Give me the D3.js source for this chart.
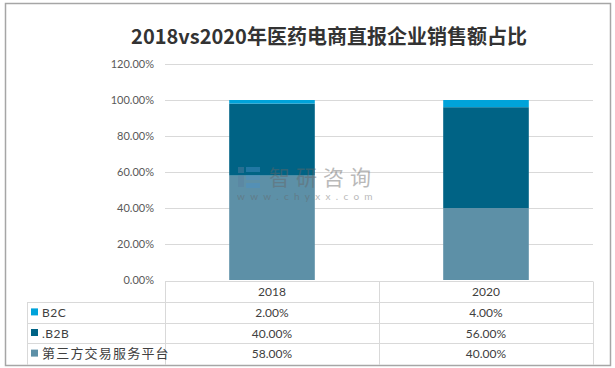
<!DOCTYPE html>
<html><head><meta charset="utf-8">
<script src="https://cdn.jsdelivr.net/npm/d3@7"></script>
<style>
html,body{margin:0;padding:0;background:#fff;}
svg{display:block;}
</style></head>
<body>
<svg id="c" width="615" height="368"></svg>
<script>
const title = "2018vs2020年医药电商直报企业销售额占比";
const categories = ["2018", "2020"];
const seriesNames = ["B2C", ".B2B", "第三方交易服务平台"];
const b2c = [0.02, 0.04];
const b2b = [0.40, 0.56];
const thirdParty = [0.58, 0.40];
const yTicks = [0, 0.2, 0.4, 0.6, 0.8, 1.0, 1.2];
const colors = ["#00A3DA", "#006385", "#5D90A7"];

const seriesValues = [b2c, b2b, thirdParty];
const rows = categories.map((c, i) => ({cat: c, s0: b2c[i], s1: b2b[i], s2: thirdParty[i]}));

const svg = d3.select("#c");
const latin = "Lato, 'Noto Sans CJK SC', sans-serif";
const cjk = "'Noto Sans CJK SC', sans-serif";

// outer frame
svg.append("rect").attr("x", 5.5).attr("y", 3.5).attr("width", 605).attr("height", 362)
  .attr("fill", "#fff").attr("stroke", "#a6a6a6").attr("stroke-width", 1.5);

// title
svg.append("text").attr("x", 329).attr("y", 44).attr("text-anchor", "middle")
  .attr("font-family", cjk).attr("font-weight", "bold").attr("font-size", 20)
  .attr("fill", "#333").text(title);

const x = d3.scaleBand().domain(categories).range([165, 593]).paddingInner(0.6).paddingOuter(0.3);
const y = d3.scaleLinear().domain([0, 1.2]).range([280, 64]);

// gridlines
svg.append("g").selectAll("line").data(yTicks.filter(d => d > 0)).join("line")
  .attr("x1", 165).attr("x2", 593).attr("y1", d => Math.round(y(d)) + 0.5).attr("y2", d => Math.round(y(d)) + 0.5)
  .attr("stroke", "#d9d9d9").attr("stroke-width", 1);

// y axis
const yAxis = svg.append("g").attr("transform", "translate(158,0)")
  .call(d3.axisLeft(y).tickValues(yTicks).tickFormat(d3.format(".2%")).tickSize(0).tickPadding(4));
yAxis.select(".domain").remove();
yAxis.selectAll("text").attr("font-family", latin).attr("font-size", 11).attr("fill", "#595959");

// stacked bars
const stack = d3.stack().keys(["s2", "s1", "s0"]);
const stacked = stack(rows);
const colorByKey = {s0: colors[0], s1: colors[1], s2: colors[2]};
svg.append("g").selectAll("g").data(stacked).join("g")
  .attr("fill", d => colorByKey[d.key])
  .selectAll("rect").data(d => d).join("rect")
  .attr("x", d => x(d.data.cat)).attr("width", x.bandwidth())
  .attr("y", d => y(d[1])).attr("height", d => y(d[0]) - y(d[1]));

// watermark
const wm = svg.append("g").attr("opacity", 0.45);
wm.append("rect").attr("x", 238).attr("y", 167).attr("width", 6).attr("height", 6).attr("fill", "#5a7fa0");
wm.append("rect").attr("x", 238).attr("y", 175).attr("width", 6).attr("height", 12).attr("fill", "#5a7fa0");
wm.append("rect").attr("x", 246).attr("y", 167).attr("width", 14).attr("height", 5).attr("fill", "#4a90c8");
wm.append("rect").attr("x", 246).attr("y", 175).attr("width", 14).attr("height", 5).attr("fill", "#4a90c8");
wm.append("rect").attr("x", 246).attr("y", 183).attr("width", 14).attr("height", 5).attr("fill", "#4a90c8");
wm.append("text").attr("x", 269).attr("y", 185).attr("font-family", cjk).attr("font-size", 21)
  .attr("fill", "#666").attr("letter-spacing", 6).text("智研咨询");
wm.append("text").attr("x", 237).attr("y", 200).attr("font-family", latin).attr("font-size", 10)
  .attr("fill", "#666").attr("letter-spacing", 5.3).text("www.chyxx.com");

// data table
const tbl = svg.append("g").attr("stroke", "#d9d9d9").attr("stroke-width", 1);
const colEdges = [165, x(categories[1]) - x.step() * 0.3, 593];
const rowTop = 281.5, rowH = 20.6;
tbl.append("line").attr("x1", 165).attr("x2", 593).attr("y1", rowTop).attr("y2", rowTop);
[1, 2, 3].forEach(i => {
  const yy = Math.round(rowTop + rowH * i) + 0.5;
  tbl.append("line").attr("x1", 27).attr("x2", 593).attr("y1", yy).attr("y2", yy);
});
colEdges.forEach(cx => {
  tbl.append("line").attr("x1", Math.round(cx) + 0.5).attr("x2", Math.round(cx) + 0.5).attr("y1", rowTop).attr("y2", 365);
});
tbl.append("line").attr("x1", 27.5).attr("x2", 27.5).attr("y1", Math.round(rowTop + rowH) + 0.5).attr("y2", 365);

const tt = svg.append("g");
categories.forEach((c, i) => {
  tt.append("text").attr("x", x(c) + x.bandwidth() / 2).attr("y", rowTop + rowH / 2 + 4)
    .attr("text-anchor", "middle").attr("font-family", latin).attr("font-size", 12).attr("fill", "#404040").text(c);
});
const fmt = d3.format(".2%");
seriesNames.forEach((name, r) => {
  const cy = rowTop + rowH * (r + 1) + rowH / 2;
  tt.append("rect").attr("x", 31).attr("y", cy - 4).attr("width", 7).attr("height", 7).attr("fill", colors[r]);
  tt.append("text").attr("x", 42).attr("y", cy + 4.5)
    .attr("font-family", r === 2 ? cjk : latin).attr("font-size", r === 2 ? 13 : 12)
    .attr("letter-spacing", r === 2 ? 1.2 : 0.5)
    .attr("fill", "#404040").text(name);
  categories.forEach((c, i) => {
    tt.append("text").attr("x", x(c) + x.bandwidth() / 2).attr("y", cy + 4.5)
      .attr("text-anchor", "middle").attr("font-family", latin).attr("font-size", 12).attr("fill", "#404040")
      .text(fmt(seriesValues[r][i]));
  });
});
</script>
</body></html>
